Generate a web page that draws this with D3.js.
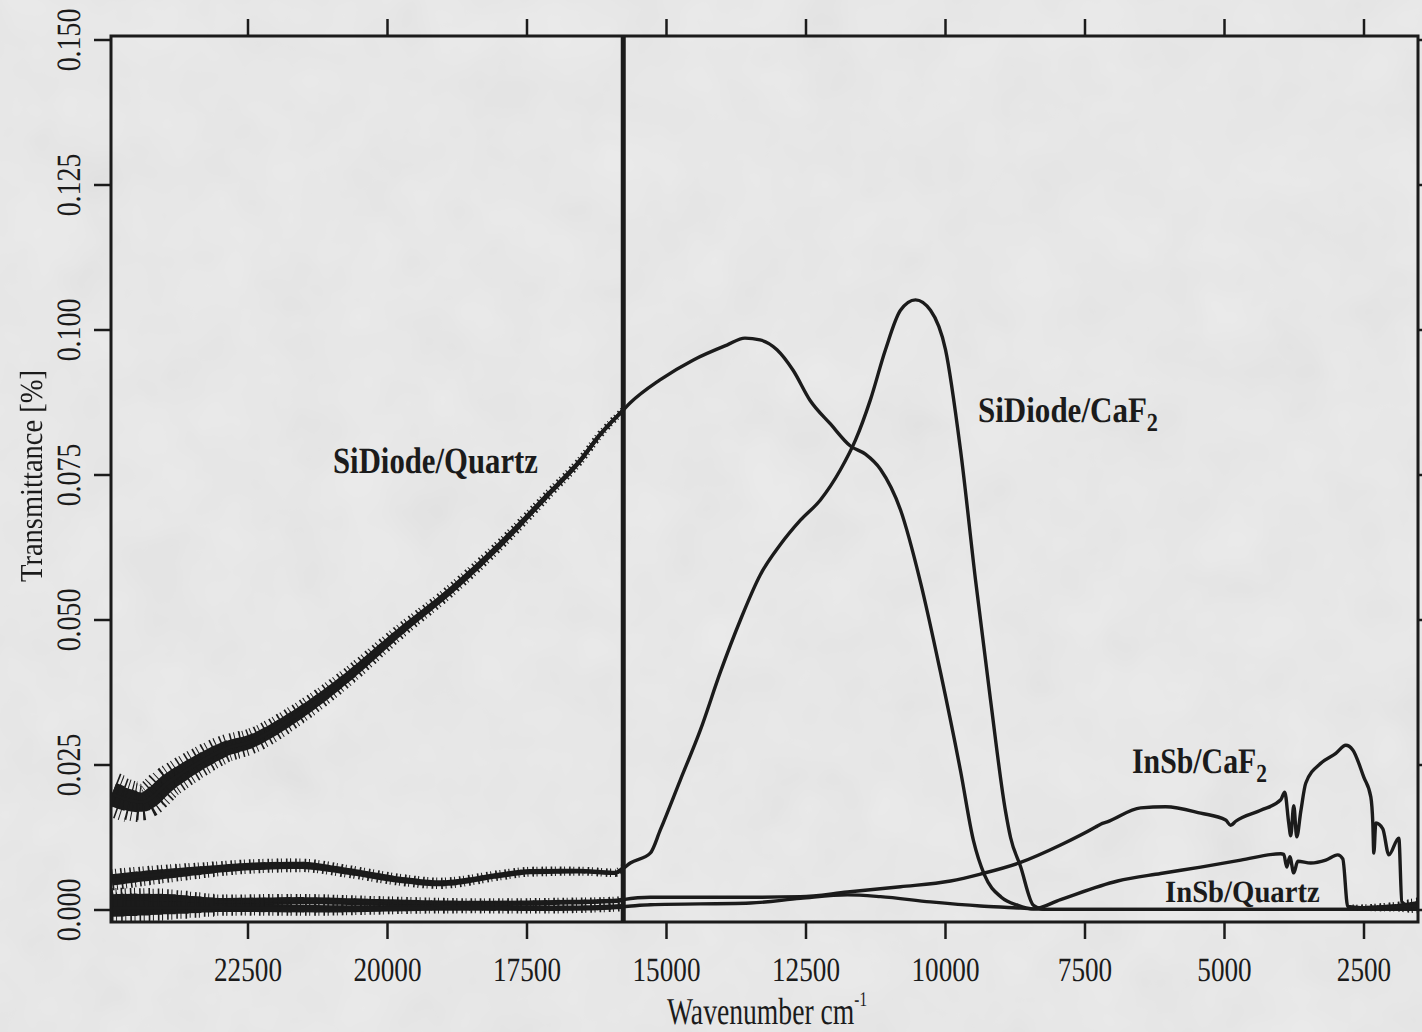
<!DOCTYPE html>
<html>
<head>
<meta charset="utf-8">
<script src="https://cdn.jsdelivr.net/npm/d3@7"></script>
<style>
  html, body { margin: 0; padding: 0; background: #e6e6e6; }
  svg { display: block; }
  text {
    font-family: "Liberation Serif", "Times New Roman", serif;
    fill: #1b1b1b;
    text-rendering: geometricPrecision;
    -webkit-font-smoothing: antialiased;
  }
</style>
</head>
<body>
<svg id="chart" width="1422" height="1032"></svg>
<script>
// [wavenumber cm-1, transmittance]
const siDiodeQuartz = [
    [24940, 0.0200], [24560, 0.0188], [24400, 0.0186], [23900, 0.0222], [23361, 0.0255],
    [22900, 0.0278], [22464, 0.0290], [21567, 0.0340], [20671, 0.0405], [19774, 0.0480],
    [18877, 0.0550], [17981, 0.0630], [17084, 0.0720], [16545, 0.0775], [16187, 0.0820],
    [15775, 0.0862], [15654, 0.0874], [15117, 0.0914], [14526, 0.0948], [13917, 0.0974],
    [13594, 0.0986], [13325, 0.0983], [13020, 0.0966], [12734, 0.0931], [12429, 0.0879],
    [12062, 0.0838], [11704, 0.0800], [11435, 0.0786], [11166, 0.0760], [10807, 0.0690],
    [10448, 0.0565], [10090, 0.0410], [9731, 0.0240], [9500, 0.0120], [9300, 0.0060],
    [9000, 0.0022], [8700, 0.0008], [8450, 0.0002], [8000, 0.0001], [1520, 0.0001]
];
const siDiodeCaF2 = [
    [24940, 0.0052], [24400, 0.0058], [23361, 0.0068], [22464, 0.0075], [21567, 0.0077],
    [20671, 0.0066], [19774, 0.0052], [19057, 0.0046], [18877, 0.0047], [17981, 0.0060],
    [17443, 0.0066], [16546, 0.0067], [15918, 0.0064], [15775, 0.0072], [15649, 0.0081],
    [15291, 0.0098], [15111, 0.0138], [14753, 0.0224], [14394, 0.0310], [14035, 0.0410],
    [13676, 0.0500], [13318, 0.0578], [12959, 0.0630], [12600, 0.0672], [12242, 0.0707],
    [11883, 0.0759], [11614, 0.0810], [11345, 0.0880], [11076, 0.0966], [10807, 0.1034],
    [10538, 0.1052], [10269, 0.1034], [10000, 0.0966], [9731, 0.0793], [9462, 0.0569],
    [9193, 0.0362], [8924, 0.0170], [8834, 0.0125], [8655, 0.0075], [8422, 0.0008],
    [8200, 0.0001], [1520, 0.0001]
];
const inSbCaF2 = [
    [24940, 0.0015], [24000, 0.0018], [23000, 0.0014], [21567, 0.0016], [20000, 0.0013],
    [18500, 0.0011], [17000, 0.0013], [15900, 0.0016], [15775, 0.0018], [15291, 0.0022],
    [13497, 0.0022], [12600, 0.0023], [11758, 0.0031], [10807, 0.0040], [9910, 0.0050],
    [9372, 0.0062], [8655, 0.0082], [7938, 0.0112], [7310, 0.0143], [7220, 0.0148],
    [7100, 0.0152], [6503, 0.0176], [6055, 0.0178], [5427, 0.0167], [4979, 0.0155],
    [4889, 0.0146], [4799, 0.0153], [4351, 0.0172], [3992, 0.0190], [3920, 0.0203],
    [3849, 0.0150], [3813, 0.0128], [3759, 0.0180], [3705, 0.0126], [3633, 0.0170],
    [3543, 0.0219], [3274, 0.0253], [3005, 0.0270], [2826, 0.0284], [2701, 0.0276],
    [2504, 0.0229], [2378, 0.0195], [2342, 0.0150], [2324, 0.0098], [2288, 0.0150],
    [2163, 0.0140], [2055, 0.0095], [1876, 0.0124], [1822, 0.0014], [1661, 0.0006],
    [1520, 0.0010]
];
const inSbQuartz = [
    [24940, 0.0003], [23000, 0.0004], [21000, 0.0002], [19000, 0.0004], [17000, 0.0003],
    [15775, 0.0006], [15291, 0.0009], [13497, 0.0012], [12600, 0.0020], [11758, 0.0026],
    [11166, 0.0023], [10269, 0.0014], [9372, 0.0007], [8780, 0.0004], [8422, 0.0002],
    [7938, 0.0018], [6915, 0.0050], [6144, 0.0063], [5427, 0.0074], [4709, 0.0086],
    [3992, 0.0097], [3938, 0.0096], [3884, 0.0074], [3830, 0.0092], [3759, 0.0064],
    [3687, 0.0084], [3454, 0.0081], [3185, 0.0086], [2970, 0.0095], [2880, 0.0088],
    [2791, 0.0006], [2558, 0.0004], [1520, 0.0008]
];
const splitWavenumber = [15775];
const xTicks = [22500, 20000, 17500, 15000, 12500, 10000, 7500, 5000, 2500];
const yTicks = [0, 0.025, 0.05, 0.075, 0.1, 0.125, 0.15];
const yTickLabels = ['0.000', '0.025', '0.050', '0.075', '0.100', '0.125', '0.150'];

const svg = d3.select('#chart');
const ink = '#1b1b1b';
const frame = { left: 111, top: 36, right: 1418, bottom: 922 };

const x = d3.scaleLinear().domain([22500, 2500]).range([248, 1364]);
const y = d3.scaleLinear().domain([0, 0.15]).range([910, 40]);

const defs = svg.append('defs');

// scanned paper look
const paper = defs.append('filter').attr('id', 'paper')
    .attr('x', 0).attr('y', 0).attr('width', '100%').attr('height', '100%');
paper.append('feTurbulence').attr('type', 'fractalNoise')
    .attr('baseFrequency', 0.015).attr('numOctaves', 3).attr('seed', 7);
paper.append('feColorMatrix').attr('type', 'matrix')
    .attr('values', '0.33 0.33 0.33 0 0  0.33 0.33 0.33 0 0  0.33 0.33 0.33 0 0  0 0 0 0 1');

svg.append('rect').attr('width', 1422).attr('height', 1032).style('fill', '#ececec');
svg.append('rect').attr('width', 1422).attr('height', 1032)
    .attr('filter', 'url(#paper)').style('opacity', 0.09);

defs.append('clipPath').attr('id', 'plot-clip').append('rect')
    .attr('x', frame.left).attr('y', frame.top)
    .attr('width', frame.right - frame.left).attr('height', frame.bottom - frame.top);

const line = d3.line()
    .x(d => x(d[0]))
    .y(d => y(d[1]))
    .curve(d3.curveMonotoneX);

// noisy stretches: band width (px) at a few wavenumbers, tapered between them
const series = [
    { data: siDiodeQuartz, noise: [[[24950, 34], [24300, 26], [22500, 19], [21000, 14], [19500, 10], [18000, 8], [16500, 6], [15775, 5]]] },
    { data: siDiodeCaF2, noise: [[[24950, 16], [23000, 11], [20000, 9], [17000, 7], [15775, 6]]] },
    { data: inSbCaF2, noise: [[[24950, 20], [23000, 11], [20000, 9], [15775, 6]]] },
    { data: inSbQuartz, noise: [[[24950, 24], [23000, 12], [20000, 9], [15775, 7]], [[2700, 4], [1900, 7], [1520, 12]]] }
];

const plot = svg.append('g').attr('clip-path', 'url(#plot-clip)');
let clipCount = 0;

function drawNoise(data, stops) {
    const widthAt = d3.scaleLinear().domain(stops.map(s => s[0])).range(stops.map(s => s[1]));
    const hi = stops[0][0], lo = stops[stops.length - 1][0];
    const n = 40;
    for (let k = 0; k < n; k++) {
        const a = hi - (hi - lo) * k / n;
        const b = hi - (hi - lo) * (k + 1) / n;
        const w = widthAt((a + b) / 2);
        const id = `noise-${clipCount++}`;
        defs.append('clipPath').attr('id', id).append('rect')
            .attr('x', x(a) - 0.5).attr('y', 0)
            .attr('width', x(b) - x(a) + 1).attr('height', 1032);
        const g = plot.append('g').attr('clip-path', `url(#${id})`);
        g.append('path').datum(data).attr('d', line)
            .style('fill', 'none').style('stroke', ink)
            .style('stroke-width', w * 0.72);
        g.append('path').datum(data).attr('d', line)
            .style('fill', 'none').style('stroke', ink)
            .style('stroke-width', w * 1.35)
            .style('stroke-dasharray', '1.6 2.6 1 4');
    }
}

series.forEach(s => {
    s.noise.forEach(stops => drawNoise(s.data, stops));
    plot.append('path')
        .datum(s.data)
        .attr('d', line)
        .style('fill', 'none')
        .style('stroke', ink)
        .style('stroke-width', 3.4)
        .style('stroke-linejoin', 'round');
});

// detector change
plot.selectAll('.split')
    .data(splitWavenumber)
    .enter()
    .append('line')
    .attr('x1', d => x(d)).attr('x2', d => x(d))
    .attr('y1', frame.top).attr('y2', frame.bottom)
    .style('stroke', ink)
    .style('stroke-width', 5);

// frame and ticks on all four sides
svg.append('rect')
    .attr('x', frame.left).attr('y', frame.top)
    .attr('width', frame.right - frame.left).attr('height', frame.bottom - frame.top)
    .style('fill', 'none').style('stroke', ink).style('stroke-width', 3);

const tickLen = 17;
svg.selectAll('.xtick-b').data(xTicks).enter().append('line')
    .attr('x1', d => x(d)).attr('x2', d => x(d))
    .attr('y1', frame.bottom).attr('y2', frame.bottom + tickLen)
    .style('stroke', ink).style('stroke-width', 2.5);
svg.selectAll('.xtick-t').data(xTicks).enter().append('line')
    .attr('x1', d => x(d)).attr('x2', d => x(d))
    .attr('y1', frame.top).attr('y2', frame.top - tickLen)
    .style('stroke', ink).style('stroke-width', 2.5);
svg.selectAll('.ytick-l').data(yTicks).enter().append('line')
    .attr('y1', d => y(d)).attr('y2', d => y(d))
    .attr('x1', frame.left).attr('x2', frame.left - tickLen)
    .style('stroke', ink).style('stroke-width', 2.5);
svg.selectAll('.ytick-r').data(yTicks).enter().append('line')
    .attr('y1', d => y(d)).attr('y2', d => y(d))
    .attr('x1', frame.right).attr('x2', frame.right + tickLen)
    .style('stroke', ink).style('stroke-width', 2.5);

svg.selectAll('.xlabel').data(xTicks).enter().append('text')
    .attr('transform', d => `translate(${x(d)},981) scale(0.8,1)`)
    .attr('text-anchor', 'middle')
    .style('font-size', '34px')
    .text(d => d);

svg.selectAll('.ylabel').data(yTicks).enter().append('text')
    .attr('transform', d => `translate(80,${y(d)}) rotate(-90) scale(0.82,1)`)
    .attr('text-anchor', 'middle')
    .style('font-size', '34px')
    .text((d, i) => yTickLabels[i]);

// text squeezed to a measured width, like the scan
function fittedText(px, py, width, size, weight, build, rotate) {
    const g = svg.append('g')
        .attr('transform', `translate(${px},${py})` + (rotate ? ` rotate(${rotate})` : ''));
    const t = g.append('text')
        .style('font-size', size + 'px')
        .style('font-weight', weight)
        .attr('fill', ink);
    build(t);
    const w = t.node().getBBox().width;
    t.attr('transform', `scale(${width / w},1)`);
    return g;
}

function withSub(main, sub) {
    return t => {
        t.append('tspan').text(main);
        t.append('tspan').attr('dy', 9).style('font-size', '0.72em').text(sub);
    };
}

fittedText(333, 473, 205, 37, 700, t => t.text('SiDiode/Quartz'));
fittedText(978, 422, 180, 36, 700, withSub('SiDiode/CaF', '2'));
fittedText(1132, 773, 135, 36, 700, withSub('InSb/CaF', '2'));
fittedText(1165, 902, 155, 31, 700, t => t.text('InSb/Quartz'));

// axis titles
fittedText(667, 1024, 200, 38, 400, t => {
    t.append('tspan').text('Wavenumber cm');
    t.append('tspan').attr('dy', -18).style('font-size', '0.55em').text('-1');
});
// own layer so the rotated title gets plain grey antialiasing
fittedText(42, 582, 212, 32, 400, t => t.text('Transmittance [%]'), -90)
    .style('opacity', 0.999);
</script>
</body>
</html>
